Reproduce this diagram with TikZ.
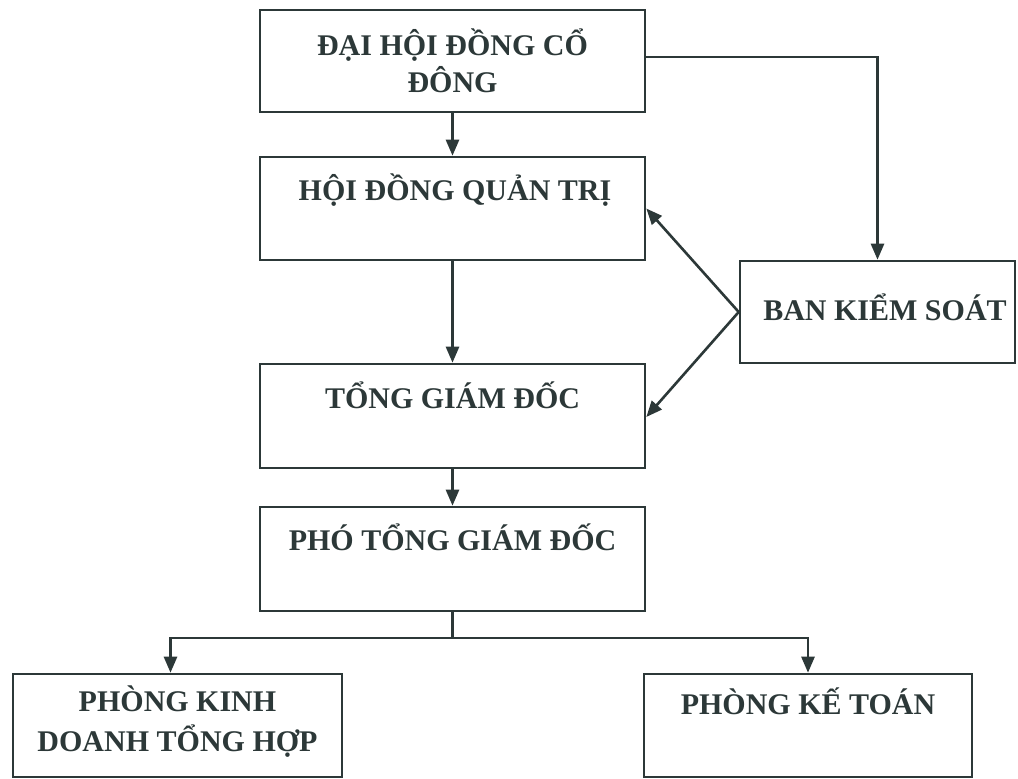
\documentclass[tikz,border=0pt]{standalone}
\usepackage{fontspec}
\setmainfont{Liberation Serif}
\usetikzlibrary{arrows.meta}
\definecolor{ink}{HTML}{2C3838}
\begin{document}
\begin{tikzpicture}[x=1pt,y=-1pt,
  box/.style={draw=ink, line width=2.6pt, inner sep=0pt},
  lbl/.style={font=\bfseries\fontsize{30}{37}\selectfont, text=ink, align=center, inner sep=0pt},
  arr/.style={draw=ink, line width=2.6pt, -{Triangle[length=16pt,width=13pt]}}]
\useasboundingbox (0,0) rectangle (1018,779);
\fill[white] (0,0) rectangle (1018,779);
% boxes
\node[box, minimum width=385pt, minimum height=102pt] (dh) at (452.5,61) {};
\node[box, minimum width=385pt, minimum height=103pt] (hd) at (452.5,208.5) {};
\node[box, minimum width=275pt, minimum height=102pt] (bks) at (877.5,312) {};
\node[box, minimum width=385pt, minimum height=104pt] (tgd) at (452.5,416) {};
\node[box, minimum width=385pt, minimum height=104pt] (ptgd) at (452.5,559) {};
\node[box, minimum width=329pt, minimum height=103pt] (pkd) at (177.5,725.5) {};
\node[box, minimum width=328pt, minimum height=103pt] (pkt) at (808,725.5) {};
% labels
\node[lbl] (tdh) at (452.5,61) {ĐẠI HỘI ĐỒNG CỔ\\ĐÔNG};
\node[lbl] (thd) at (455,190) {HỘI ĐỒNG QUẢN TRỊ};
\node[lbl] (tbks) at (885,307) {BAN KIỂM SOÁT};
\node[lbl] (ttgd) at (452.5,395) {TỔNG GIÁM ĐỐC};
\node[lbl] (tptgd) at (452.5,537) {PHÓ TỔNG GIÁM ĐỐC};
\node[lbl, font=\bfseries\fontsize{30}{40}\selectfont] (tpkd) at (177.5,722) {PHÒNG KINH\\DOANH TỔNG HỢP};
\node[lbl] (tpkt) at (808,701) {PHÒNG KẾ TOÁN};
% connectors
\coordinate (split) at (452.5,638);
\draw[arr] (dh.south) -- (hd.north);
\draw[arr] ([yshift=4pt]dh.east) -| (bks.north);
\draw[arr] (hd.south) -- (tgd.north);
\draw[arr] (tgd.south) -- (ptgd.north);
\draw[arr] (bks.west) -- (hd.east);
\draw[arr] (bks.west) -- ([yshift=-1pt]tgd.east);
\draw[draw=ink, line width=2.6pt] (ptgd.south) -- (split);
\draw[arr] (split) -| ([xshift=-7pt]pkd.north);
\draw[arr] (split) -| (pkt.north);
\end{tikzpicture}
\end{document}
